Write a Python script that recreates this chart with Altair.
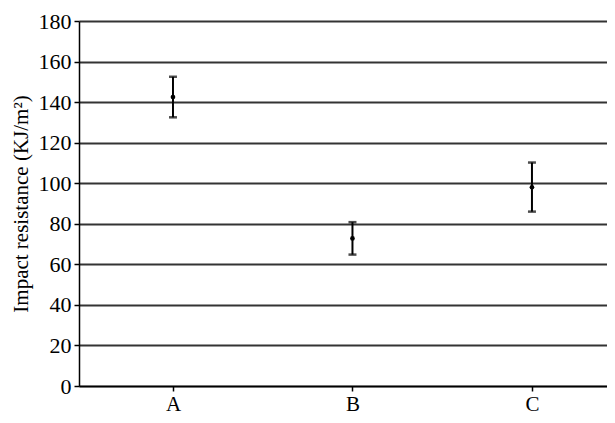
import altair as alt
import pandas as pd

samples = ["A", "B", "C"]
means = [142.5, 72.8, 98.0]
lows = [132.5, 64.8, 86.0]
highs = [152.5, 80.8, 110.2]

df = pd.DataFrame({"sample": samples, "mean": means, "lo": lows, "hi": highs})

FONT = "Liberation Serif"

x = alt.X(
    "sample:N",
    sort=samples,
    scale=alt.Scale(type="point", padding=0.4708, align=0.556),
    axis=alt.Axis(
        title=None,
        labelAngle=0,
        labelFont=FONT,
        labelFontSize=21,
        labelColor="black",
        labelPadding=2,
        tickSize=5,
        tickColor="black",
        tickWidth=1.5,
        domainColor="black",
        domainWidth=1.5,
        grid=False,
    ),
)
y_scale = alt.Scale(domain=[0, 180], nice=False)
y_axis = alt.Axis(
    title="Impact resistance (KJ/m²)",
    titleFont=FONT,
    titleFontSize=21,
    titleFontWeight="normal",
    titleColor="black",
    titlePadding=7,
    values=list(range(0, 181, 20)),
    labelFont=FONT,
    labelFontSize=22,
    labelColor="black",
    labelPadding=3,
    tickSize=5,
    tickColor="black",
    tickWidth=1.5,
    domainColor="black",
    domainWidth=1.5,
    grid=True,
    gridColor="#333333",
    gridWidth=1.8,
)

base = alt.Chart(df)

bars = base.mark_rule(color="black", strokeWidth=2).encode(
    x=x,
    y=alt.Y("lo:Q", scale=y_scale, axis=y_axis),
    y2="hi:Q",
)
cap_lo = base.mark_tick(color="black", orient="horizontal", size=8, thickness=2.5).encode(
    x=x, y=alt.Y("lo:Q", scale=y_scale)
)
cap_hi = base.mark_tick(color="black", orient="horizontal", size=8, thickness=2.5).encode(
    x=x, y=alt.Y("hi:Q", scale=y_scale)
)
dots = base.mark_circle(color="black", size=22, opacity=1).encode(
    x=x, y=alt.Y("mean:Q", scale=y_scale)
)

chart = (
    alt.layer(bars, cap_lo, cap_hi, dots)
    .properties(
        width=528,
        height=365,
        autosize=alt.AutoSizeParams(type="none"),
        padding={"left": 71, "top": 13, "right": 0, "bottom": 29},
        background="white",
    )
    .configure_view(stroke=None)
)

chart.save("out.html", embed_options={"renderer": "svg", "actions": False})
